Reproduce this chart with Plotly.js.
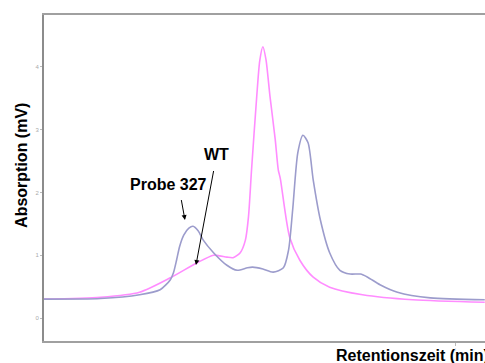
<!DOCTYPE html>
<html>
<head>
<meta charset="utf-8">
<script src="https://cdn.plot.ly/plotly-3.0.1.min.js"></script>
<style>
html,body{margin:0;padding:0;background:#fff;overflow:hidden;}
#chart{width:485px;height:363px;}
</style>
</head>
<body>
<div id="chart"></div>
<script>
// Retention time (min) and absorption (mV)
var wtTime = [0, 0.55, 0.93, 1.23, 1.49, 1.65, 1.71, 1.78, 1.84, 1.91, 1.96, 1.99, 2.02, 2.07, 2.10, 2.13, 2.16, 2.20, 2.25, 2.28, 2.30, 2.39, 2.49, 2.62, 2.78, 3.10, 3.59, 4.29];
var wtAbs  = [0.30, 0.33, 0.41, 0.64, 0.88, 1.00, 0.99, 0.97, 0.96, 1.04, 1.24, 1.61, 2.36, 3.52, 4.10, 4.32, 4.12, 3.52, 2.85, 2.36, 2.22, 1.29, 0.92, 0.65, 0.49, 0.37, 0.29, 0.25];

var probeTime = [0, 0.55, 0.93, 1.13, 1.23, 1.26, 1.29, 1.32, 1.36, 1.41, 1.45, 1.50, 1.55, 1.65, 1.78, 1.88, 1.98, 2.03, 2.13, 2.23, 2.33, 2.38, 2.42, 2.47, 2.52, 2.57, 2.62, 2.69, 2.78, 2.88, 2.98, 3.08, 3.15, 3.27, 3.44, 3.76, 4.29];
var probeAbs  = [0.30, 0.31, 0.37, 0.45, 0.61, 0.72, 0.92, 1.14, 1.32, 1.43, 1.46, 1.39, 1.24, 1.04, 0.84, 0.76, 0.80, 0.81, 0.78, 0.73, 0.80, 1.08, 1.72, 2.63, 2.91, 2.79, 2.20, 1.56, 1.04, 0.76, 0.70, 0.70, 0.65, 0.53, 0.41, 0.32, 0.29];

var yTicks = [0, 1, 2, 3, 4];
var xTicks = [4];

var traces = [
  {x: wtTime, y: wtAbs, name: 'WT', mode: 'lines',
   line: {color: '#ff8cff', width: 1.6, shape: 'spline', smoothing: 0.7}},
  {x: probeTime, y: probeAbs, name: 'Probe 327', mode: 'lines',
   line: {color: '#9c9ccc', width: 1.6, shape: 'spline', smoothing: 0.7}}
];

var bold = {family: 'Arial, "Liberation Sans", sans-serif', size: 16, color: '#000'};

var layout = {
  width: 485, height: 363,
  margin: {l: 44, r: 0, t: 15, b: 22},
  paper_bgcolor: '#fff', plot_bgcolor: '#fff',
  showlegend: false,
  xaxis: {
    range: [0, 4.292], showgrid: false, zeroline: false,
    showline: true, linecolor: '#a0a0a0', linewidth: 2, mirror: true,
    tickmode: 'array', tickvals: xTicks, ticktext: ['4'],
    ticks: 'outside', ticklen: 3, tickcolor: '#bbb',
    tickfont: {size: 4, color: '#ccc', family: 'Arial'}
  },
  yaxis: {
    range: [-0.366, 4.825], showgrid: false, zeroline: false,
    showline: true, linecolor: '#8c8c8c', linewidth: 2, mirror: false,
    tickmode: 'array', tickvals: yTicks,
    ticks: 'outside', ticklen: 2, tickcolor: '#bbb',
    tickfont: {size: 6, color: '#aaa', family: 'Arial'}
  },
  annotations: [
    {xref: 'paper', yref: 'paper', x: -0.05, y: 0.54, text: '<b>Absorption (mV)</b>',
     textangle: -90, showarrow: false, font: bold, xanchor: 'center', yanchor: 'middle'},
    {xref: 'paper', yref: 'paper', x: 0.6576, y: -0.043, text: '<b>Retentionszeit (min)</b>',
     showarrow: false, font: bold, xanchor: 'left', yanchor: 'middle'},
    {x: 1.207, y: 2.134, xref: 'x', yref: 'y', text: '<b>Probe 327</b>', font: bold, showarrow: false},
    {x: 1.679, y: 2.596, xref: 'x', yref: 'y', text: '<b>WT</b>', font: bold, showarrow: false},
    {x: 1.372, y: 1.56, xref: 'x', yref: 'y', text: ' ', font: {size: 1},
     showarrow: true, ax: -4, ay: -22, arrowhead: 2, arrowsize: 1, arrowwidth: 1, arrowcolor: '#000', standoff: 0},
    {x: 1.479, y: 0.844, xref: 'x', yref: 'y', text: ' ', font: {size: 1},
     showarrow: true, ax: 18, ay: -96, arrowhead: 2, arrowsize: 1, arrowwidth: 1, arrowcolor: '#000', standoff: 0}
  ]
};

Plotly.newPlot('chart', traces, layout, {staticPlot: true, displayModeBar: false});
</script>
</body>
</html>
